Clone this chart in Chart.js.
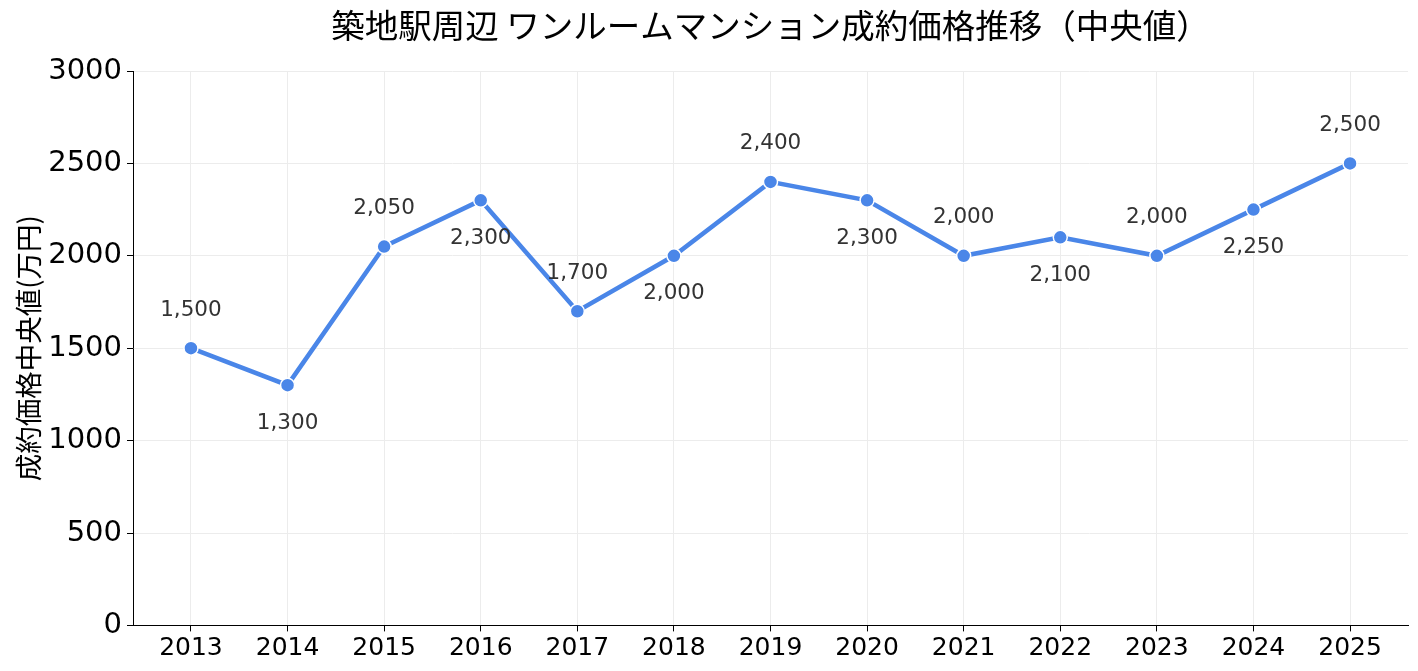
<!DOCTYPE html>
<html>
<head>
<meta charset="utf-8">
<script src="https://cdn.jsdelivr.net/npm/chart.js@4"></script>
<style>
  html, body { margin: 0; padding: 0; background: #fff; }
  #wrap { width: 1418px; height: 671px; }
</style>
</head>
<body>
<div id="wrap"><canvas id="myChart"></canvas></div>
<script>
// Chart data
const years = [2013, 2014, 2015, 2016, 2017, 2018, 2019, 2020, 2021, 2022, 2023, 2024, 2025];
const prices = [1500, 1300, 2050, 2300, 1700, 2000, 2400, 2300, 2000, 2100, 2000, 2250, 2500];
const yTicks = [0, 500, 1000, 1500, 2000, 2500, 3000];
const titleText = '築地駅周辺 ワンルームマンション成約価格推移（中央値）';

const FONT = "'Noto Sans CJK JP', 'Noto Sans', sans-serif";
const NUM_FONT = "'DejaVu Sans', sans-serif";
const LINE = '#4a86e8';

// value labels, alternately above / below the points
const valueLabels = {
  id: 'valueLabels',
  afterDatasetsDraw(chart) {
    const ctx = chart.ctx;
    const meta = chart.getDatasetMeta(0);
    ctx.save();
    ctx.font = '21.5px ' + NUM_FONT;
    ctx.fillStyle = '#333';
    ctx.textAlign = 'center';
    ctx.textBaseline = 'middle';
    meta.data.forEach((pt, i) => {
      const dy = i % 2 === 0 ? -38 : 38;
      ctx.fillText(prices[i].toLocaleString('en-US'), pt.x, pt.y + dy);
    });
    ctx.restore();
  }
};

// title centred over the plot area (built-in title only reserves the space)
const plotTitle = {
  id: 'plotTitle',
  afterDraw(chart) {
    const ctx = chart.ctx;
    const a = chart.chartArea;
    ctx.save();
    ctx.font = '33.5px ' + FONT;
    ctx.fillStyle = '#000';
    ctx.textAlign = 'center';
    ctx.textBaseline = 'middle';
    ctx.fillText(titleText, (a.left + a.right) / 2, 25);
    ctx.restore();
  }
};

const chartConfig = {
  type: 'line',
  data: {
    datasets: [{
      data: years.map((y, i) => ({ x: y, y: prices[i] })),
      borderColor: LINE,
      backgroundColor: LINE,
      borderWidth: 4.5,
      pointRadius: 7,
      pointBorderColor: '#fff',
      pointBorderWidth: 1.5,
      pointBackgroundColor: LINE,
      tension: 0
    }]
  },
  options: {
    responsive: true,
    maintainAspectRatio: false,
    animation: false,
    layout: { padding: { top: 0, right: 10, bottom: 5.6, left: 12 } },
    plugins: {
      legend: { display: false },
      tooltip: { enabled: false },
      title: {
        display: true,
        text: titleText,
        color: 'rgba(0,0,0,0)',
        font: { family: FONT, size: 32, weight: 'normal' },
        padding: { top: 5, bottom: 27.6 }
      }
    },
    scales: {
      x: {
        type: 'linear',
        min: 2012.4,
        max: 2025.6,
        afterBuildTicks: (axis) => { axis.ticks = years.map(v => ({ value: v })); },
        ticks: {
          color: '#000',
          font: { family: NUM_FONT, size: 25 },
          padding: 2,
          callback: (v) => String(v)
        },
        grid: { color: '#ececec', tickColor: '#000', tickLength: 6 },
        border: { color: '#000', width: 1 }
      },
      y: {
        min: 0,
        max: 3000,
        afterBuildTicks: (axis) => { axis.ticks = yTicks.map(v => ({ value: v })); },
        afterFit: (axis) => { axis.width = 121; },
        ticks: {
          color: '#000',
          font: { family: NUM_FONT, size: 29 },
          padding: 5,
          callback: (v) => String(v)
        },
        grid: { color: '#ececec', tickColor: '#000', tickLength: 6 },
        border: { color: '#000', width: 1 },
        title: {
          display: true,
          text: '成約価格中央値(万円)',
          color: '#000',
          font: { family: FONT, size: 27.5 },
          padding: 0
        }
      }
    }
  },
  plugins: [valueLabels, plotTitle]
};

const myChart = new Chart(document.getElementById('myChart'), chartConfig);
</script>
</body>
</html>
